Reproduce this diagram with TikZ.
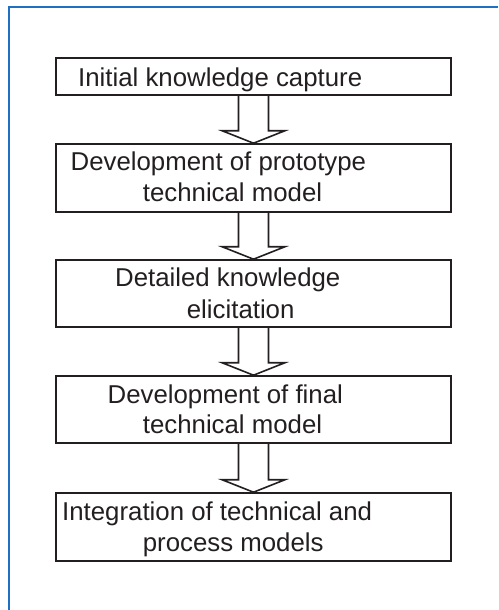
\documentclass[tikz,border=0pt]{standalone}
\usepackage{fontspec}
\setmainfont{Liberation Sans}
\usetikzlibrary{calc}
\definecolor{ink}{RGB}{35,31,32}
\definecolor{framebl}{RGB}{30,112,196}
\tikzset{
  stagebox/.style={draw=ink, line width=1.6pt, rectangle, minimum width=395pt, inner sep=0pt},
  stagetext/.style={anchor=base west, inner sep=0pt, text=ink, font=\fontsize{25.8}{31}\selectfont},
  flowarrow/.style={draw=ink, line width=1.6pt, line join=miter},
  framerule/.style={draw=framebl, line width=2pt}
}
% block arrow from the bottom of one box to the top of the next
\newcommand{\blockarrow}[2]{%
  \draw[flowarrow] ($(#1.south)+(-15,0)$) -- ($(#2.north)+(-15,-12.5)$)
    -- ($(#2.north)+(-31.5,-12.5)$) -- (#2.north)
    -- ($(#2.north)+(31.5,-12.5)$) -- ($(#2.north)+(15,-12.5)$)
    -- ($(#1.south)+(15,0)$);}
\begin{document}
\begin{tikzpicture}[x=1pt, y=-1pt]
\useasboundingbox (0,0) rectangle (498,610);
% page frame: top and left rules
\coordinate (fc) at (8.5,7.5);
\coordinate (ft) at (498,7.5);
\coordinate (fb) at (8.5,610);
\draw[framerule] (ft) -- (fc) -- (fb);

% stages
\node[stagebox, minimum height=37pt] (b1) at (253.5,76.5) {};
\node[stagebox, minimum height=68pt] (b2) at (253.5,178) {};
\node[stagebox, minimum height=67pt] (b3) at (253.5,293.5) {};
\node[stagebox, minimum height=67pt] (b4) at (253.5,409.5) {};
\node[stagebox, minimum height=68pt] (b5) at (253.5,527) {};

\node[stagetext] (t1) at (78,86) {Initial knowledge capture};
\node[stagetext] (t2a) at (70.5,170) {Development of prototype};
\node[stagetext] (t2b) at (142.7,201) {technical model};
\node[stagetext] (t3a) at (115,286.5) {Detailed knowledge};
\node[stagetext] (t3b) at (186.7,318) {elicitation};
\node[stagetext] (t4a) at (107.5,403) {Development of final};
\node[stagetext] (t4b) at (142.7,433.5) {technical model};
\node[stagetext] (t5a) at (62,520.5) {Integration of technical and};
\node[stagetext] (t5b) at (142.7,551.5) {process models};

% connectors
\blockarrow{b1}{b2}
\blockarrow{b2}{b3}
\blockarrow{b3}{b4}
\blockarrow{b4}{b5}
\end{tikzpicture}
\end{document}
